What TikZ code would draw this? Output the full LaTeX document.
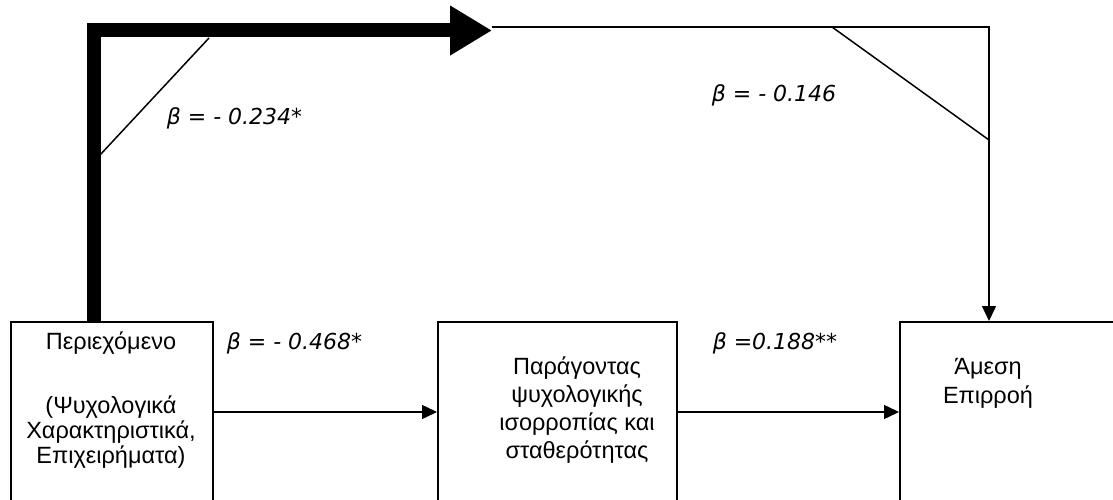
\documentclass[tikz,border=0pt]{standalone}
\usepackage{fontspec}
\setmainfont{Liberation Sans}
\newfontfamily\labfont{DejaVu Sans}
\usetikzlibrary{arrows.meta}
\tikzset{
  boxstyle/.style={draw, line width=1.5pt, minimum width=#1, anchor=north west, minimum height=190pt, inner sep=0pt},
  boxtext/.style={align=center, font=\fontsize{23.5}{25}\selectfont, inner sep=0pt},
  betalab/.style={font=\labfont\itshape\fontsize{22}{26}\selectfont, inner sep=0pt},
  thinarrow/.style={line width=1.5pt, -{Triangle[length=15pt,width=14pt]}},
  thinline/.style={line width=1.5pt},
  thickarrow/.style={line width=14pt, miter limit=10, line join=miter, -{Triangle[length=42pt,width=47pt]}}
}
\begin{document}
\begin{tikzpicture}[x=1pt,y=-1pt]
\useasboundingbox (0,0) rectangle (1113,500);
\clip (0,0) rectangle (1113,500);
\fill[white] (0,0) rectangle (1113,500);

% boxes
\node[boxstyle=202pt] (b1) at (10,321) {};
\node[boxstyle=239pt] (b2) at (437,321) {};
\node[boxstyle=230pt] (b3) at (899,321) {};

% box texts
\node[boxtext] (t1a) at (111,343) {Περιεχόμενο};
\node[boxtext] (t1b) at (111,432) {(Ψυχολογικά\\Χαρακτηριστικά,\\Επιχειρήματα)};
\node[boxtext, font=\fontsize{23.5}{28}\selectfont] (t2) at (577,410) {Παράγοντας\\ψυχολογικής\\ισορροπίας και\\σταθερότητας};
\node[boxtext, font=\fontsize{23.5}{29}\selectfont] (t3) at (988,383) {Άμεση\\Επιρροή};

% coordinates for the paths
\coordinate (tstart) at (93.5,321);
\coordinate (tcorner) at (93.5,30.5);
\coordinate (ttip) at (492,30.5);
\coordinate (thinstart) at (492,27);
\coordinate (thincorner) at (989,27);
\coordinate (b3top) at (989,321);

% thick arrow
\draw[thickarrow] (tstart) -- (tcorner) -- (ttip);
% thin path to box 3
\draw[thinarrow] (thinstart) -- (thincorner) -- (b3top);

% horizontal arrows
\draw[thinarrow] (b1.east |- 0,412) -- (b2.west |- 0,412);
\draw[thinarrow] (b2.east |- 0,412) -- (b3.west |- 0,412);

% diagonal lines
\draw[thinline] (100,155) -- (209,38);
\draw[thinline] (832,27) -- (989,140);

% labels
\node[betalab] (l1) at (234.5,118) {β = - 0.234*};
\node[betalab] (l2) at (774,95) {β = - 0.146};
\node[betalab] (l3) at (294.5,343) {β = - 0.468*};
\node[betalab] (l4) at (775,343) {β =0.188**};
\end{tikzpicture}
\end{document}
